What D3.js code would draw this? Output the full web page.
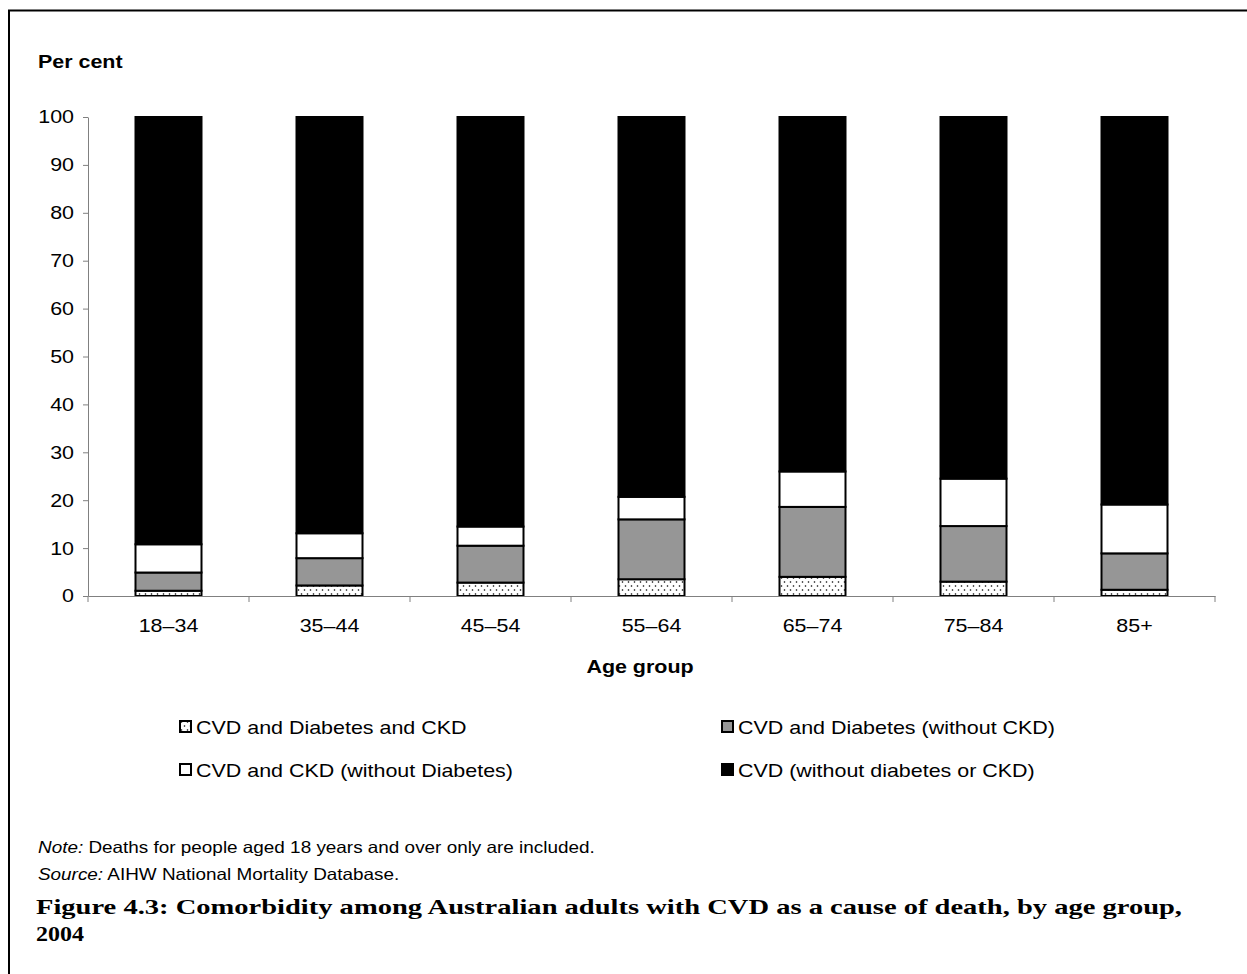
<!DOCTYPE html>
<html><head><meta charset="utf-8">
<script src="https://cdn.jsdelivr.net/npm/d3@7"></script>
<style>body{margin:0;background:#fff}svg{display:block}</style>
</head><body>
<script>
const categories = ["18–34","35–44","45–54","55–64","65–74","75–84","85+"];
const seriesNames = ["CVD and Diabetes and CKD","CVD and Diabetes (without CKD)","CVD and CKD (without Diabetes)","CVD (without diabetes or CKD)"];
const dvdCkd   = [1.1, 2.2, 2.8, 3.5, 4.0, 3.0, 1.3];
const dvdOnly  = [3.8, 5.7, 7.7, 12.5, 14.6, 11.6, 7.6];
const ckdOnly  = [5.9, 5.2, 4.0, 4.7, 7.4, 9.9, 10.2];
const cvdOnly  = [89.2, 86.9, 85.5, 79.3, 74.0, 75.5, 80.9];
const yTicks = [0,10,20,30,40,50,60,70,80,90,100];

const W=1247,H=974;
const sans="'Liberation Sans', Arial, sans-serif";
const serif="'Liberation Serif', 'Times New Roman', serif";
const FS=18.5, STR=1.16;
const svg=d3.select("body").append("svg").attr("width",W).attr("height",H);
const defs=svg.append("defs");
const pat=defs.append("pattern").attr("id","dots").attr("patternUnits","userSpaceOnUse").attr("width",6).attr("height",8);
pat.append("rect").attr("width",6).attr("height",8).attr("fill","#fff");
pat.append("circle").attr("cx",1.5).attr("cy",2).attr("r",0.8).attr("fill","#000");
pat.append("circle").attr("cx",4.5).attr("cy",6).attr("r",0.8).attr("fill","#000");
const fills=["url(#dots)","#969696","#ffffff","#000000"];

// text placed at (x,y) and stretched horizontally
function stxt(x,y,size,opts={}){
  const g=svg.append("g").attr("transform",`translate(${x},${y}) scale(${STR},1)`);
  const t=g.append("text").attr("font-family",sans).attr("font-size",size).attr("fill","#000");
  if(opts.bold) t.attr("font-weight","bold");
  if(opts.anchor) t.attr("text-anchor",opts.anchor);
  return t;
}

// frame
svg.append("path").attr("d",`M9,${H+5} L9,10.5 L${W+5},10.5`).attr("fill","none").attr("stroke","#000").attr("stroke-width",2);

const x=d3.scaleBand().domain(categories).range([88,1215]).padding(0);
const y=d3.scaleLinear().domain([0,100]).range([596,117]);
const barW=66;

const rows=categories.map((c,i)=>({cat:c,v:[dvdCkd[i],dvdOnly[i],ckdOnly[i],cvdOnly[i]]}));
const stack=d3.stack().keys([0,1,2,3]).value((d,k)=>d.v[k]);
const layers=stack(rows);

const g=svg.append("g");
layers.forEach((layer,k)=>{
  g.selectAll(null).data(layer).enter().append("rect")
   .attr("x",d=>x(d.data.cat)+(x.bandwidth()-barW)/2)
   .attr("width",barW)
   .attr("y",d=>y(d[1]))
   .attr("height",d=>y(d[0])-y(d[1]))
   .attr("fill",fills[k]).attr("stroke","#000").attr("stroke-width",2);
});

// axes
const axCol="#808080";
const yAxis=svg.append("g").attr("transform","translate(88,0)")
  .call(d3.axisLeft(y).tickValues(yTicks).tickSize(5).tickPadding(14).tickSizeOuter(0));
const xAxis=svg.append("g").attr("transform","translate(0,596)")
  .call(d3.axisBottom(x).tickSize(0).tickPadding(23).tickSizeOuter(0));
const bounds=categories.map(c=>x(c)).concat([x.range()[1]]);
svg.append("g").selectAll("line").data(bounds).enter().append("line")
  .attr("x1",d=>d).attr("x2",d=>d).attr("y1",596).attr("y2",602).attr("stroke",axCol);
[yAxis,xAxis].forEach(a=>{
  a.select(".domain").attr("stroke",axCol);
  a.selectAll(".tick line").attr("stroke",axCol);
  a.selectAll(".tick text").attr("font-family",sans).attr("font-size",FS).attr("fill","#000")
    .attr("transform",`scale(${STR},1)`);
});
xAxis.selectAll(".tick text").attr("dy","0.71em");
yAxis.selectAll(".tick text").attr("x",-14/STR);

stxt(38,68,FS,{bold:true}).text("Per cent");
stxt(640,673,FS,{bold:true,anchor:"middle"}).text("Age group");

// legend
const legPos=[[180,727],[722,727],[180,770],[722,770]];
[0,1,2,3].forEach((k,i)=>{
  const [lx,ly]=legPos[i];
  svg.append("rect").attr("x",lx).attr("y",ly-6).attr("width",11).attr("height",11)
    .attr("fill",fills[k]).attr("stroke","#000").attr("stroke-width",2);
  stxt(lx+16,ly+7,FS).text(seriesNames[k]);
});

// notes
const NF=16.3;
const n1=stxt(38,853,NF);
n1.append("tspan").attr("font-style","italic").text("Note:");
n1.append("tspan").text(" Deaths for people aged 18 years and over only are included.");
const n2=stxt(38,880,NF);
n2.append("tspan").attr("font-style","italic").text("Source:");
n2.append("tspan").text(" AIHW National Mortality Database.");

svg.append("text").attr("x",36).attr("y",914).attr("font-family",serif).attr("font-size",22).attr("font-weight","bold")
  .attr("textLength",1146).attr("lengthAdjust","spacingAndGlyphs")
  .text("Figure 4.3: Comorbidity among Australian adults with CVD as a cause of death, by age group,");
svg.append("text").attr("x",36).attr("y",941).attr("font-family",serif).attr("font-size",22).attr("font-weight","bold")
  .attr("textLength",48).attr("lengthAdjust","spacingAndGlyphs").text("2004");
</script>
</body></html>
